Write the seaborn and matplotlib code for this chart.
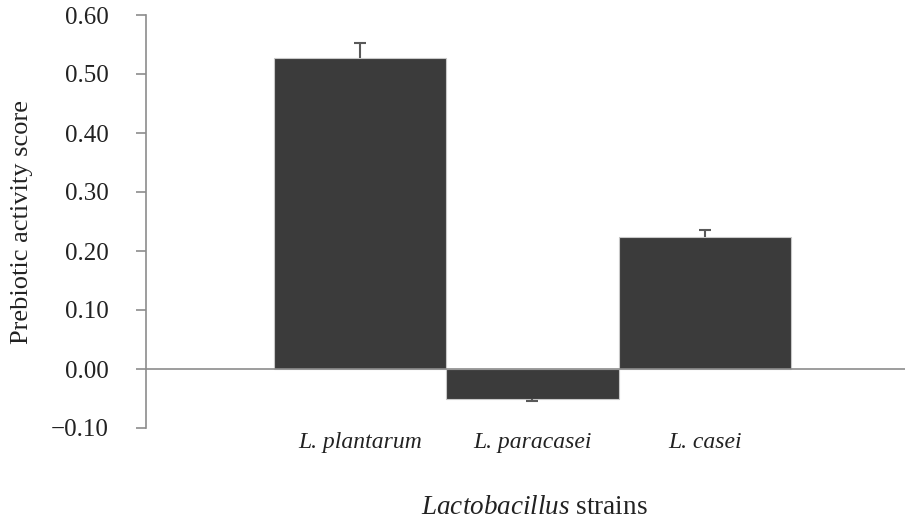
import matplotlib
matplotlib.use("Agg")
import matplotlib.pyplot as plt
import seaborn as sns
import numpy as np
import pandas as pd

# data
strains = ["L. plantarum", "L. paracasei", "L. casei"]
scores = [0.527, -0.051, 0.224]
errors = [0.026, 0.003, 0.012]
yticks = [-0.10, 0.00, 0.10, 0.20, 0.30, 0.40, 0.50, 0.60]

sns.set_theme(style="white")
plt.rcParams["font.family"] = ["Liberation Serif", "DejaVu Serif"]
plt.rcParams["mathtext.fontset"] = "custom"
plt.rcParams["mathtext.it"] = "Liberation Serif:italic"
plt.rcParams["mathtext.rm"] = "Liberation Serif"

fig = plt.figure(figsize=(9.1, 5.21), dpi=100)
ax = fig.add_axes([146 / 910, (521 - 428) / 521, (905 - 146) / 910, (428 - 15) / 521])

df = pd.DataFrame({"strain": strains, "score": scores})
sns.barplot(data=df, x="strain", y="score", color="#3b3b3b", saturation=1,
            width=1.0, edgecolor="#c8c8c8", linewidth=0.8, errorbar=None, ax=ax)

# one-sided error bars (away from zero)
x = np.arange(len(strains))
vals = np.array(scores)
errs = np.array(errors)
neg = vals < 0
lower = np.where(neg, errs, 0)
upper = np.where(~neg, errs, 0)
eb = ax.errorbar(x, vals, yerr=[lower, upper], fmt="none",
                 ecolor="#595959", elinewidth=1.5, capsize=4.5, capthick=1.5, zorder=3)
caps = eb[1]
caps[0].set_data(x[neg], (vals - lower)[neg])
caps[1].set_data(x[~neg], (vals + upper)[~neg])

ax.axhline(0, color="#8c8c8c", linewidth=1.2, zorder=1)

ax.set_ylim(-0.10, 0.60)
ax.set_yticks(yticks)
ax.set_yticklabels([f"{t:.2f}".replace("-", "\u2212") for t in yticks])
ax.set_xlim(-1.24, 3.16)

for s in ["top", "right", "bottom"]:
    ax.spines[s].set_visible(False)
ax.spines["left"].set_color("#8c8c8c")
ax.spines["left"].set_linewidth(1.2)

ax.tick_params(axis="y", direction="out", length=7, width=1.2, color="#8c8c8c",
               labelsize=18, pad=20, left=True, labelcolor="#222222")
ax.tick_params(axis="x", length=0, labelsize=17, pad=3, labelcolor="#222222")
for lab in ax.get_xticklabels():
    lab.set_fontstyle("italic")

ax.set_ylabel("Prebiotic activity score", fontsize=19, color="#222222")
ax.yaxis.set_label_coords(-0.149, 0.5)
ax.set_xlabel("")
fig.text(534 / 910, 1 - 508 / 521, "$\\it{Lactobacillus}$ strains", ha="center",
         va="center", fontsize=19.5, color="#222222")

fig.savefig("out.png", dpi=100)
